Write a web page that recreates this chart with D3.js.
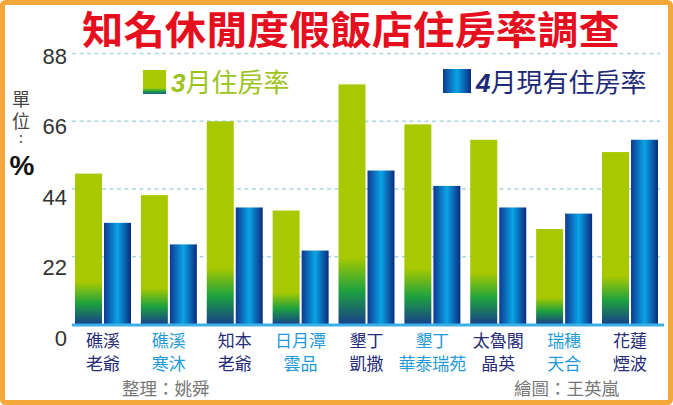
<!DOCTYPE html>
<html><head><meta charset="utf-8">
<script src="https://cdn.jsdelivr.net/npm/d3@7"></script>
<style>body{margin:0;background:#fff}svg{display:block}</style>
</head><body>
<svg id="c" width="673" height="405"></svg>
<script>
const categories = [["礁溪","老爺"],["礁溪","寒沐"],["知本","老爺"],["日月潭","雲品"],["墾丁","凱撒"],["墾丁","華泰瑞苑"],["太魯閣","晶英"],["瑞穗","天合"],["花蓮","煙波"]];
const march = [49, 42, 66, 37, 78, 65, 60, 31, 56];
const april = [33, 26, 38, 24, 50, 45, 38, 36, 60];
const yTicks = [0, 22, 44, 66, 88];
const seriesNames = ["3月住房率", "4月現有住房率"];
const title = "知名休閒度假飯店住房率調查";

const svg = d3.select("#c");
const cjk = "'Noto Sans CJK TC','Noto Sans CJK SC',sans-serif";
const defs = svg.append("defs");
const gg = defs.append("linearGradient").attr("id","gGreen").attr("x1",0).attr("y1",0).attr("x2",0).attr("y2",1);
[[0,"#a8c900"],[0.72,"#a8c900"],[0.86,"#1ea23e"],[1,"#173f8a"]].forEach(s=>gg.append("stop").attr("offset",s[0]).attr("stop-color",s[1]));
const gb = defs.append("linearGradient").attr("id","gBlue").attr("x1",0).attr("y1",0).attr("x2",1).attr("y2",0);
[[0,"#0d3a92"],[0.5,"#0aa4e6"],[1,"#0b2b7e"]].forEach(s=>gb.append("stop").attr("offset",s[0]).attr("stop-color",s[1]));
const gs = defs.append("linearGradient").attr("id","gGreenS").attr("x1",0).attr("y1",0).attr("x2",0).attr("y2",1);
[[0,"#a8c900"],[0.75,"#a8c900"],[0.88,"#1ea23e"],[1,"#1a5a86"]].forEach(s=>gs.append("stop").attr("offset",s[0]).attr("stop-color",s[1]));

// border
svg.append("rect").attr("x",2.5).attr("y",2.5).attr("width",668).attr("height",400).attr("rx",3)
  .attr("fill","#fff").attr("stroke","#f4a83a").attr("stroke-width",5);

const y = d3.scaleLinear().domain([0,88]).range([324.4,53.6]);
const yLab = d3.scaleLinear().domain([0,88]).range([338,56]);
const x0 = d3.scaleBand().domain(d3.range(categories.length)).range([75,658]).paddingInner(0.15).paddingOuter(0);
const x1 = d3.scaleBand().domain([0,1]).range([0,x0.bandwidth()]).paddingInner(0.07);

// gridlines
svg.append("g").selectAll("line").data(yTicks.filter(t=>t>0)).join("line")
  .attr("x1",72).attr("x2",660).attr("y1",d=>y(d)).attr("y2",d=>y(d))
  .attr("stroke","#a9d5e4").attr("stroke-width",1.5).attr("stroke-dasharray","4,3.5");

// tick labels
svg.append("g").selectAll("text").data(yTicks).join("text")
  .attr("x",67).attr("y",d=>yLab(d)).attr("text-anchor","end").attr("dominant-baseline","central")
  .attr("font-family","'Liberation Sans',Arial,sans-serif").attr("font-size",22).attr("fill","#333")
  .text(d=>d);

// bars
const groups = svg.append("g").selectAll("g").data(categories.map((c,i)=>i)).join("g")
  .attr("transform",i=>`translate(${x0(i)},0)`);
groups.append("rect").attr("x",x1(0)).attr("width",x1.bandwidth())
  .attr("y",i=>y(march[i])).attr("height",i=>y(0)-y(march[i])).attr("fill","url(#gGreen)");
groups.append("rect").attr("x",x1(1)).attr("width",x1.bandwidth())
  .attr("y",i=>y(april[i])).attr("height",i=>y(0)-y(april[i])).attr("fill","url(#gBlue)");

// baseline
svg.append("line").attr("x1",72).attr("x2",664).attr("y1",y(0)+0.5).attr("y2",y(0)+0.5)
  .attr("stroke","#3cb0e6").attr("stroke-width",3);

// category labels (two separate lines)
const cx = i => x0(i)+x0.bandwidth()/2;
const catColor = i => i%2===0?"#262c78":"#1f9ad6";
[0,1].forEach(line=>{
  svg.append("g").selectAll("text").data(categories).join("text")
    .attr("text-anchor","middle").attr("font-family",cjk).attr("font-size",17)
    .attr("fill",(d,i)=>catColor(i))
    .attr("x",(d,i)=>cx(i)).attr("y",line===0?347:370).text(d=>d[line]);
});

// title
svg.append("text").attr("x",351).attr("y",44).attr("text-anchor","middle")
  .attr("font-family",cjk).attr("font-weight","bold").attr("font-size",39).attr("fill","#e50f1f")
  .attr("textLength",538).attr("lengthAdjust","spacingAndGlyphs").text(title);

// legend
svg.append("rect").attr("x",143).attr("y",70).attr("width",23).attr("height",24).attr("fill","url(#gGreenS)");
const l1 = svg.append("text").attr("x",171).attr("y",92).attr("font-family",cjk).attr("font-size",26).attr("fill","#9cc41c");
l1.append("tspan").attr("font-weight","bold").attr("font-style","italic").attr("font-family","'Liberation Sans',Arial,sans-serif").text(seriesNames[0].slice(0,1));
l1.append("tspan").text(seriesNames[0].slice(1));
svg.append("rect").attr("x",443).attr("y",69).attr("width",28).attr("height",24).attr("fill","url(#gBlue)");
const l2 = svg.append("text").attr("x",476).attr("y",92).attr("font-family",cjk).attr("font-size",26).attr("fill","#1d2a78");
l2.append("tspan").attr("font-weight","bold").attr("font-style","italic").attr("font-family","'Liberation Sans',Arial,sans-serif").text(seriesNames[1].slice(0,1));
l2.append("tspan").text(seriesNames[1].slice(1));

// unit label (vertical)
svg.append("text").attr("x",21).attr("y",90).attr("writing-mode","tb").attr("glyph-orientation-vertical",0)
  .attr("font-family",cjk).attr("font-size",18).attr("letter-spacing",4).attr("fill","#444").text("單位");
svg.append("text").attr("x",21).attr("y",143).attr("text-anchor","middle")
  .attr("font-family",cjk).attr("font-size",14).attr("fill","#444").text(":");
svg.append("text").attr("x",22).attr("y",175).attr("text-anchor","middle").attr("font-size",28).attr("font-weight","bold").attr("fill","#111")
  .attr("font-family","'Liberation Sans',Arial,sans-serif").text("%");

// credits
svg.append("text").attr("x",122).attr("y",395).attr("font-family",cjk).attr("font-size",17.5).attr("fill","#777").text("整理：姚舜");
svg.append("text").attr("x",514).attr("y",395).attr("font-family",cjk).attr("font-size",17.5).attr("fill","#777").text("繪圖：王英嵐");
</script>
</body></html>
